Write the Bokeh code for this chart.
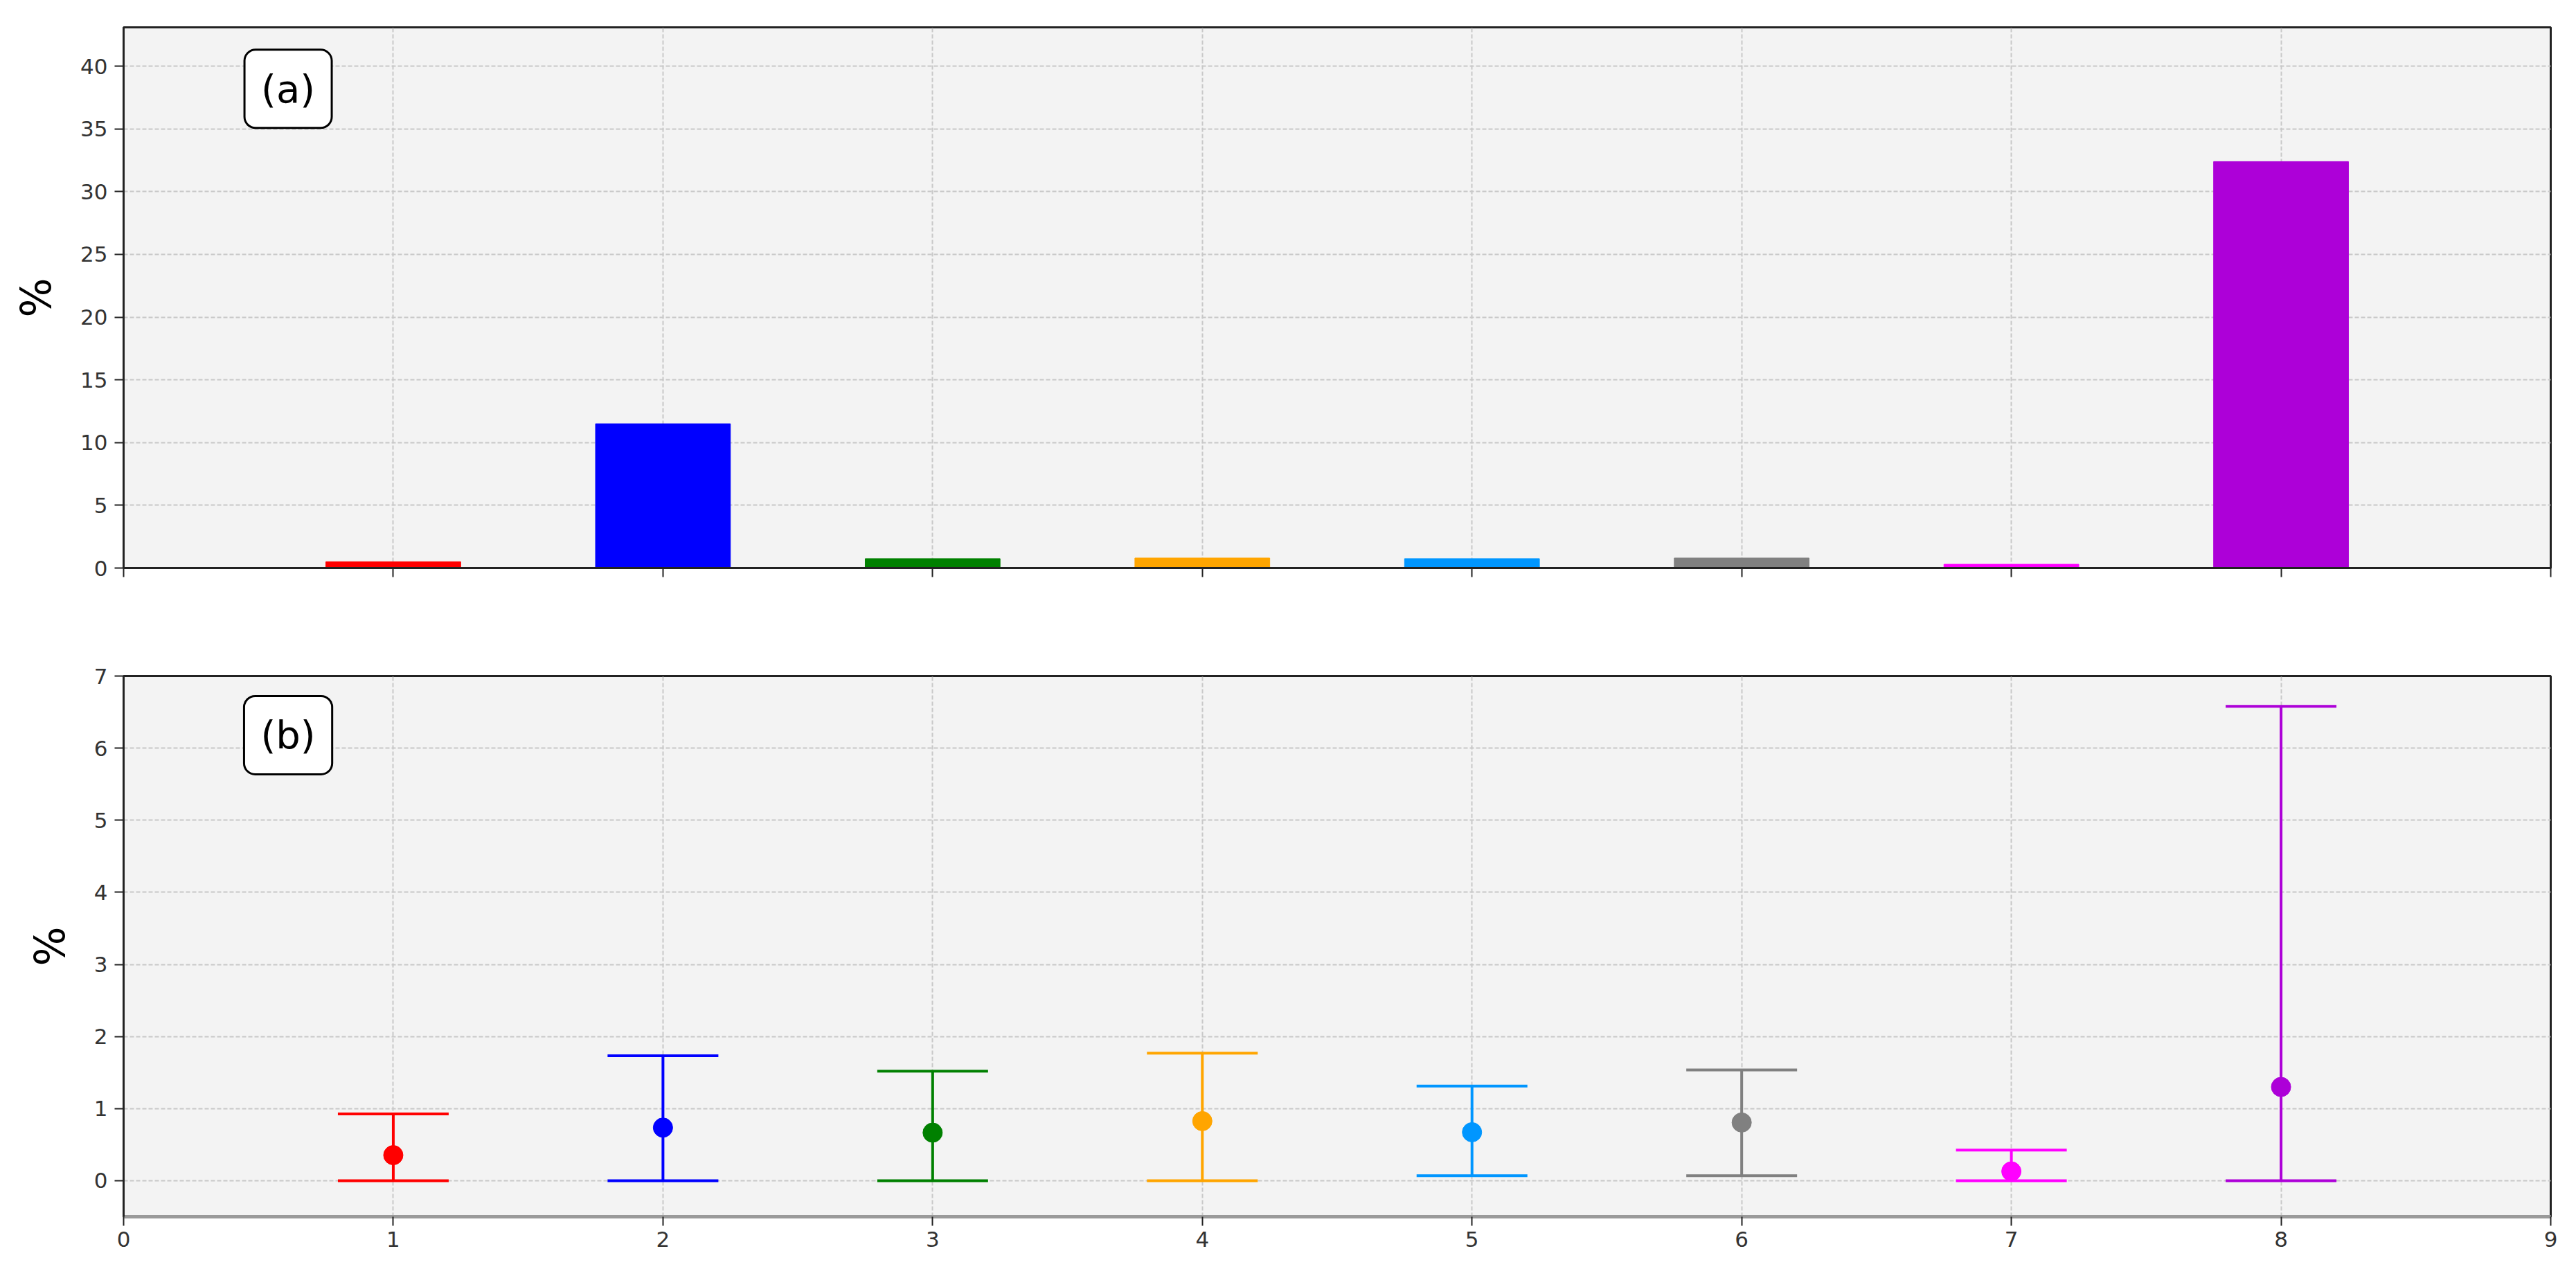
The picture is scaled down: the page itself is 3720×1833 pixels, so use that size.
from bokeh.plotting import figure
from bokeh.models import Label, FixedTicker, ColumnDataSource, Range1d
from bokeh.layouts import column
from bokeh.embed import file_html
from bokeh.resources import INLINE

# ---- data ----
xs = [1, 2, 3, 4, 5, 6, 7, 8]
colors = ["#ff0000", "#0000ff", "#008000", "#ffa500", "#0096ff", "#808080", "#ff00ff", "#ad00d8"]
bar_values = [0.5, 11.5, 0.75, 0.8, 0.75, 0.8, 0.3, 32.4]
point_values = [0.354, 0.736, 0.666, 0.826, 0.672, 0.807, 0.129, 1.30]
upper_values = [0.926, 1.733, 1.518, 1.768, 1.312, 1.537, 0.424, 6.58]
lower_values = [0.0, 0.0, 0.0, 0.0, 0.068, 0.068, 0.0, 0.0]
x_ticks = [0, 1, 2, 3, 4, 5, 6, 7, 8, 9]
y_ticks_a = [0, 5, 10, 15, 20, 25, 30, 35, 40]
y_ticks_b = [0, 1, 2, 3, 4, 5, 6, 7]

FONT = "DejaVu Sans"
GRID = "#c8c8c8"

src = ColumnDataSource(dict(x=xs, c=colors, bar=bar_values, mid=point_values,
                            hi=upper_values, lo=lower_values))


def style(p, yticks):
    p.background_fill_color = "#f3f3f3"
    p.border_fill_color = "white"
    p.outline_line_color = "#222222"
    p.outline_line_width = 3
    p.xaxis.ticker = FixedTicker(ticks=x_ticks)
    p.yaxis.ticker = FixedTicker(ticks=yticks)
    for ax in (p.xaxis[0], p.yaxis[0]):
        ax.axis_line_color = "#222222"
        ax.axis_line_width = 3
        ax.major_tick_line_color = "#222222"
        ax.major_tick_line_width = 2
        ax.major_tick_out = 13
        ax.major_tick_in = 0
        ax.minor_tick_line_color = None
        ax.major_label_text_font = FONT
        ax.major_label_text_font_size = "31px"
        ax.major_label_text_color = "#333333"
    p.yaxis.major_label_standoff = 10
    p.xaxis.major_label_standoff = 8
    p.yaxis.axis_label = "%"
    p.yaxis.axis_label_text_font = FONT
    p.yaxis.axis_label_text_font_size = "60px"
    p.yaxis.axis_label_text_font_style = "normal"
    p.yaxis.axis_label_text_color = "black"
    p.yaxis.axis_label_standoff = 26
    p.xgrid[0].ticker = FixedTicker(ticks=x_ticks)
    p.ygrid[0].ticker = FixedTicker(ticks=yticks)
    for g in (p.xgrid[0], p.ygrid[0]):
        g.grid_line_color = GRID
        g.grid_line_dash = "6 3"
        g.grid_line_width = 2


# ---- panel (a) ----
p1 = figure(width=3704, height=897, output_backend="svg", toolbar_location=None,
            x_range=Range1d(0, 9), y_range=Range1d(0, 43.1),
            min_border_left=178, min_border_right=21, min_border_top=39, min_border_bottom=77)
style(p1, y_ticks_a)
p1.xaxis.major_label_overrides = {t: "" for t in x_ticks}
p1.vbar(x="x", top="bar", bottom=0, width=0.5, fill_color="c", line_color="c",
        line_width=1, source=src)
p1.add_layout(Label(x=0.61, y=38.2, text="(a)", text_font=FONT, text_font_size="56px",
                    text_align="center", text_baseline="middle", text_color="black",
                    background_fill_color="white", border_line_color="black",
                    border_line_width=3, padding=24, border_radius=16))

# ---- panel (b) ----
p2 = figure(width=3704, height=928, output_backend="svg", toolbar_location=None,
            x_range=Range1d(0, 9), y_range=Range1d(-0.5, 7),
            min_border_left=178, min_border_right=21, min_border_top=79, min_border_bottom=68)
style(p2, y_ticks_b)
p2.xaxis.axis_line_color = "#9a9a9a"
p2.xaxis.axis_line_width = 5
p2.segment(x0="x", y0="lo", x1="x", y1="hi", line_color="c", line_width=4, source=src)
p2.scatter(x="x", y="hi", marker="dash", size=160, line_color="c", line_width=4, source=src)
p2.scatter(x="x", y="lo", marker="dash", size=160, line_color="c", line_width=4, source=src)
p2.scatter(x="x", y="mid", marker="circle", size=28, fill_color="c", line_color="c", source=src)
p2.add_layout(Label(x=0.61, y=6.18, text="(b)", text_font=FONT, text_font_size="56px",
                    text_align="center", text_baseline="middle", text_color="black",
                    background_fill_color="white", border_line_color="black",
                    border_line_width=3, padding=24, border_radius=16))

layout = column(p1, p2, spacing=0)
open("out.html", "w").write(file_html(layout, INLINE))
